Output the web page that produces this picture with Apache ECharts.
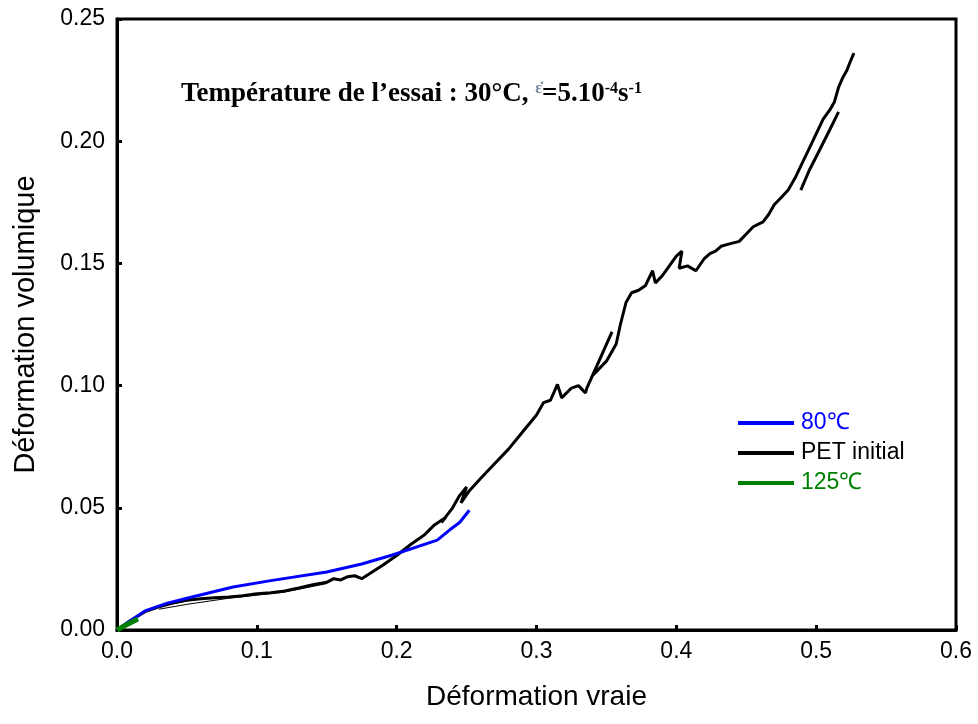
<!DOCTYPE html>
<html>
<head>
<meta charset="utf-8">
<script src="https://cdn.jsdelivr.net/npm/echarts@6/dist/echarts.min.js"></script>
<style>html,body{margin:0;padding:0;background:#fff}#c{width:978px;height:724px}</style>
</head>
<body>
<div id="c"></div>
<script>
// Data
const blackX = [0,0.01,0.02,0.03,0.04,0.05,0.06,0.07,0.08,0.09,0.10,0.11,0.12,0.13,0.14,0.15,0.155,0.16,0.165,0.17,0.175,0.18,0.19,0.20,0.21,0.22,0.227,0.235,0.232,0.24,0.245,0.25,0.246,0.252,0.26,0.27,0.28,0.29,0.30,0.305,0.31,0.315,0.318,0.325,0.33,0.335,0.336,0.354,0.34,0.35,0.357,0.36,0.364,0.368,0.373,0.378,0.383,0.385,0.39,0.395,0.40,0.404,0.402,0.408,0.414,0.42,0.424,0.428,0.432,0.438,0.445,0.45,0.455,0.462,0.466,0.47,0.475,0.48,0.485,0.49,0.495,0.50,0.505,0.51,0.513,0.516,0.519,0.522,0.524,0.527];
const blackY = [0,0.004,0.0075,0.0095,0.011,0.0122,0.0128,0.0132,0.0135,0.014,0.0148,0.0152,0.016,0.0172,0.0185,0.0195,0.021,0.0205,0.0218,0.0222,0.021,0.0228,0.0265,0.0305,0.035,0.039,0.043,0.046,0.044,0.050,0.055,0.0585,0.052,0.057,0.062,0.068,0.074,0.081,0.088,0.093,0.094,0.1005,0.095,0.099,0.100,0.097,0.099,0.122,0.104,0.110,0.117,0.125,0.134,0.138,0.139,0.141,0.147,0.142,0.145,0.149,0.153,0.155,0.148,0.149,0.147,0.152,0.154,0.155,0.157,0.158,0.159,0.162,0.165,0.167,0.170,0.174,0.177,0.180,0.185,0.191,0.197,0.203,0.209,0.213,0.216,0.222,0.226,0.229,0.232,0.236];
const black2X = [0.489,0.495,0.503,0.510,0.516];
const black2Y = [0.180,0.188,0.197,0.205,0.212];
const black3X = [0.03,0.05,0.08,0.12,0.15];
const black3Y = [0.0085,0.0105,0.013,0.0155,0.019];
const blueX = [0,0.01,0.02,0.036,0.05,0.083,0.11,0.15,0.175,0.197,0.229,0.238,0.245,0.252];
const blueY = [0,0.004,0.0078,0.011,0.013,0.0176,0.0202,0.0237,0.027,0.0307,0.0368,0.041,0.044,0.049];
const greenX = [0,0.005,0.010,0.015];
const greenY = [0,0.0016,0.0031,0.0045];
const xTicks = [0,0.1,0.2,0.3,0.4,0.5,0.6];
const yTicks = [0,0.05,0.10,0.15,0.20,0.25];
const names = ['80℃','PET initial','125℃'];

const zip = (a,b)=>a.map((v,i)=>[v,b[i]]);
const chart = echarts.init(document.getElementById('c'), null, {renderer:'canvas'});
const axisFont = {fontFamily:'Liberation Sans, Arial', fontSize:23, color:'#000'};
const serif = 'Liberation Serif, Times New Roman';
chart.setOption({
  animation:false,
  backgroundColor:'#fff',
  grid:{left:117,right:22,top:19,bottom:94,show:true,borderColor:'#000',borderWidth:3},
  title:{
    left:176, top:76,
    text:'{a|Température de l’essai : 30°C, }{e|ε̇}{a|=5.10}{s|-4}{a|s}{s|-1}',
    textStyle:{rich:{
      a:{fontFamily:serif,fontWeight:'bold',fontSize:27,color:'#000'},
      s:{fontFamily:serif,fontWeight:'bold',fontSize:16,color:'#000',verticalAlign:'top'},
      e:{fontFamily:serif,fontSize:16,color:'#7a8aa0',verticalAlign:'top'}
    }}
  },
  legend:{
    orient:'vertical', left:733, top:406, itemGap:6, itemWidth:56, itemHeight:4,
    icon:'rect',
    data:[
      {name:names[0],textStyle:{color:'#0000ff'}},
      {name:names[1],textStyle:{color:'#000'}},
      {name:names[2],textStyle:{color:'#008000'}}
    ],
    textStyle:{fontFamily:'Liberation Sans, Arial',fontSize:23,lineHeight:24,padding:[0,0,0,2]}
  },
  xAxis:{
    type:'value', min:0, max:0.6, interval:0.1,
    name:'Déformation vraie', nameLocation:'middle', nameGap:53,
    nameTextStyle:{fontFamily:'Liberation Sans, Arial',fontSize:28,color:'#000'},
    axisLine:{lineStyle:{color:'#000',width:3}},
    axisTick:{inside:true,length:5,lineStyle:{color:'#000',width:3}},
    axisLabel:Object.assign({margin:10,formatter:v=>v.toFixed(1)},axisFont),
    splitLine:{show:false}
  },
  yAxis:{
    type:'value', min:0, max:0.25, interval:0.05,
    name:'Déformation volumique', nameLocation:'middle', nameGap:77,
    nameTextStyle:{fontFamily:'Liberation Sans, Arial',fontSize:29,color:'#000'},
    axisLine:{lineStyle:{color:'#000',width:3}},
    axisTick:{inside:true,length:5,lineStyle:{color:'#000',width:3}},
    axisLabel:Object.assign({margin:12,formatter:v=>v.toFixed(2)},axisFont),
    splitLine:{show:false}
  },
  series:[
    {name:names[1],type:'line',data:zip(blackX,blackY),showSymbol:false,symbol:'none',lineStyle:{color:'#000',width:3},itemStyle:{color:'#000'},z:2},
    {name:'PET initial b',type:'line',data:zip(black2X,black2Y),showSymbol:false,symbol:'none',lineStyle:{color:'#000',width:3},itemStyle:{color:'#000'},z:2},
    {name:'PET initial c',type:'line',data:zip(black3X,black3Y),showSymbol:false,symbol:'none',lineStyle:{color:'#000',width:1},itemStyle:{color:'#000'},z:2},
    {name:names[0],type:'line',data:zip(blueX,blueY),showSymbol:false,symbol:'none',lineStyle:{color:'#0000ff',width:3},itemStyle:{color:'#0000ff'},z:3},
    {name:names[2],type:'line',data:zip(greenX,greenY),showSymbol:false,symbol:'none',lineStyle:{color:'#008000',width:5},itemStyle:{color:'#008000'},z:4}
  ]
});
</script>
</body>
</html>
